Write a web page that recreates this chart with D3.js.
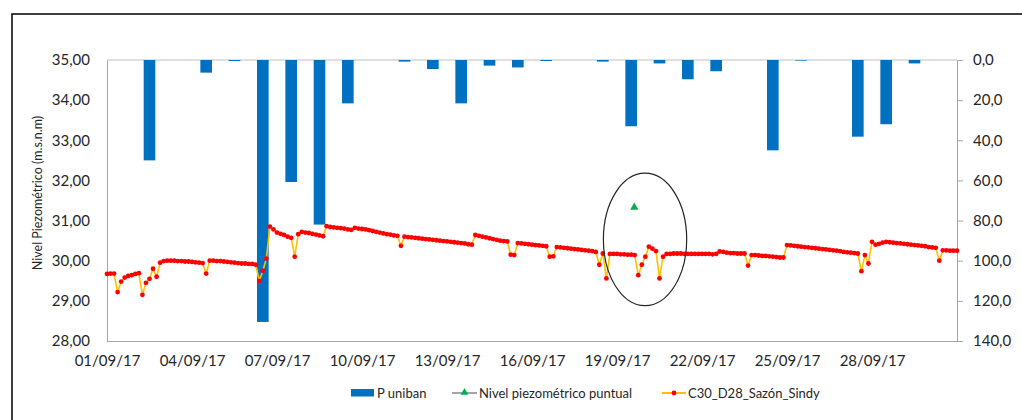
<!DOCTYPE html>
<html lang="es">
<head>
<meta charset="utf-8">
<title>Nivel piezométrico</title>
<style>
  body { margin: 0; background: #fff; font-family: "Lato", "Open Sans", sans-serif; }
  svg { display: block; }
  .axis text { fill: #262626; font-family: "Lato", sans-serif; }
  .axis path, .axis line { stroke: #a6a6a6; }
</style>
<script src="https://cdn.jsdelivr.net/npm/d3@7"></script>
</head>
<body>
<script>
// precipitación diaria (mm), día de septiembre 2017
var lluviaDias = [2, 4, 5, 6, 7, 8, 9, 11, 12, 13, 14, 15, 16, 18, 19, 20, 21, 22, 24, 25, 27, 28, 29];
var lluviaMm   = [50, 6.3, 0.5, 130.5, 60.8, 82, 21.6, 0.8, 4.5, 21.6, 2.8, 3.7, 0.5, 0.8, 33, 1.7, 9.6, 5.6, 45, 0.3, 38.2, 32, 1.7];

// C30_D28_Sazón_Sindy: lectura cada 3 horas desde 01/09/17 00:00
var nivel = [
  29.67, 29.68, 29.68, 29.22, 29.48, 29.58, 29.62, 29.64,
  29.67, 29.69, 29.15, 29.45, 29.55, 29.80, 29.60, 29.95,
  29.99, 30.00, 30.00, 30.00, 29.99, 29.99, 29.98, 29.98,
  29.97, 29.96, 29.95, 29.94, 29.68, 30.00, 30.00, 29.99,
  29.99, 29.98, 29.97, 29.96, 29.95, 29.94, 29.93, 29.93,
  29.92, 29.92, 29.90, 29.50, 29.75, 30.05, 30.85, 30.78,
  30.70, 30.67, 30.64, 30.60, 30.57, 30.10, 30.66, 30.72,
  30.70, 30.69, 30.67, 30.65, 30.63, 30.61, 30.86, 30.84,
  30.83, 30.82, 30.81, 30.80, 30.78, 30.77, 30.82, 30.80,
  30.79, 30.78, 30.76, 30.74, 30.72, 30.70, 30.68, 30.66,
  30.65, 30.63, 30.62, 30.37, 30.60, 30.59, 30.58, 30.57,
  30.56, 30.55, 30.54, 30.53, 30.52, 30.51, 30.50, 30.49,
  30.48, 30.47, 30.46, 30.45, 30.44, 30.43, 30.41, 30.40,
  30.64, 30.62, 30.60, 30.58, 30.56, 30.54, 30.52, 30.50,
  30.49, 30.48, 30.15, 30.14, 30.44, 30.43, 30.42, 30.41,
  30.40, 30.39, 30.38, 30.37, 30.36, 30.10, 30.11, 30.34,
  30.33, 30.32, 30.31, 30.30, 30.29, 30.28, 30.27, 30.26,
  30.25, 30.24, 30.22, 29.90, 30.18, 29.56, 30.17, 30.17,
  30.17, 30.16, 30.16, 30.15, 30.15, 30.14, 29.64, 29.90,
  30.10, 30.35, 30.30, 30.24, 29.56, 30.10, 30.17, 30.17,
  30.18, 30.18, 30.18, 30.17, 30.17, 30.17, 30.17, 30.17,
  30.17, 30.17, 30.17, 30.16, 30.17, 30.23, 30.22, 30.20,
  30.19, 30.19, 30.18, 30.18, 30.18, 29.88, 30.14, 30.14,
  30.13, 30.12, 30.12, 30.11, 30.10, 30.09, 30.08, 30.08,
  30.39, 30.38, 30.37, 30.36, 30.35, 30.34, 30.33, 30.32,
  30.31, 30.30, 30.29, 30.28, 30.27, 30.26, 30.25, 30.24,
  30.22, 30.21, 30.20, 30.19, 30.18, 29.74, 30.14, 29.93,
  30.47, 30.40, 30.42, 30.45, 30.47, 30.46, 30.45, 30.44,
  30.43, 30.42, 30.41, 30.40, 30.39, 30.38, 30.37, 30.36,
  30.34, 30.33, 30.32, 30.00, 30.26, 30.26, 30.25, 30.25,
  30.25
];

// nivel piezométrico puntual
var puntualFecha = [new Date(2017, 8, 19, 14, 40)];
var puntualValor = [31.33];

var ticksIzq = [28, 29, 30, 31, 32, 33, 34, 35];
var ticksDer = [0, 20, 40, 60, 80, 100, 120, 140];
var ticksFecha = [1, 4, 7, 10, 13, 16, 19, 22, 25, 28];

var width = 1022, height = 420;
var L = 107, R = 957, T = 60, B = 341;

var svg = d3.select("body").append("svg")
  .attr("width", width)
  .attr("height", height);

// marco exterior
svg.append("rect")
  .attr("x", 12).attr("y", 14)
  .attr("width", 1030).attr("height", 430)
  .style("fill", "none").style("stroke", "#000").style("stroke-width", 1.5);

var x = d3.scaleTime()
  .domain([new Date(2017, 8, 1), new Date(2017, 9, 1)])
  .range([L, R]);
var yL = d3.scaleLinear().domain([28, 35]).range([B, T]);
var yR = d3.scaleLinear().domain([0, 140]).range([T, B]);

function coma(n, d) { return n.toFixed(d).replace(".", ","); }

// borde superior del área
svg.append("line")
  .attr("x1", L).attr("x2", R).attr("y1", T).attr("y2", T)
  .style("stroke", "#bfbfbf");

// barras de lluvia (cuelgan del eje derecho)
var bw = (x(new Date(2017, 8, 2)) - x(new Date(2017, 8, 1))) * 0.41;
svg.append("g").selectAll("rect")
  .data(lluviaDias)
  .enter().append("rect")
  .attr("x", function(d) { return x(new Date(2017, 8, d, 12)) - bw / 2; })
  .attr("y", yR(0))
  .attr("width", bw)
  .attr("height", function(d, i) { return yR(lluviaMm[i]) - yR(0); })
  .style("fill", "#0070c0");

// ejes
svg.append("g").attr("class", "axis")
  .attr("transform", "translate(" + L + ",0)")
  .call(d3.axisLeft(yL).tickValues(ticksIzq).tickSize(0).tickPadding(17)
    .tickFormat(function(d) { return coma(d, 2); }))
  .selectAll("text").style("font-size", "15px");

svg.append("g").attr("class", "axis")
  .attr("transform", "translate(" + R + ",0)")
  .call(d3.axisRight(yR).tickValues(ticksDer).tickSize(6).tickSizeOuter(0).tickPadding(10)
    .tickFormat(function(d) { return coma(d, 1); }))
  .selectAll("text").style("font-size", "15px");

var ax = svg.append("g").attr("class", "axis")
  .attr("transform", "translate(0," + B + ")")
  .call(d3.axisBottom(x)
    .tickValues(ticksFecha.map(function(d) { return new Date(2017, 8, d); }))
    .tickSize(0).tickPadding(14)
    .tickFormat(d3.timeFormat("%d/%m/%y")));
ax.selectAll("text").style("font-size", "15px");
ax.select(".domain").attr("d", "M" + L + ",0.5H" + (R + 6));

// título eje
svg.append("text")
  .attr("transform", "translate(42,193) rotate(-90)")
  .attr("text-anchor", "middle")
  .style("font-size", "12.5px").style("fill", "#262626")
  .text("Nivel Piezométrico (m.s.n.m)");

// serie de nivel
var t0 = new Date(2017, 8, 1).getTime();
var serie = nivel.map(function(v, i) { return { t: new Date(t0 + i * 3 * 3600 * 1000), v: v }; });

svg.append("path")
  .datum(serie)
  .attr("d", d3.line().x(function(d) { return x(d.t); }).y(function(d) { return yL(d.v); }))
  .style("fill", "none").style("stroke", "#ffc000").style("stroke-width", 1.6);

svg.append("g").selectAll("circle")
  .data(serie)
  .enter().append("circle")
  .attr("cx", function(d) { return x(d.t); })
  .attr("cy", function(d) { return yL(d.v); })
  .attr("r", 2.4)
  .style("fill", "#ff0000");

// puntual
var tri = d3.symbol().type(d3.symbolTriangle).size(30);
svg.append("g").selectAll("path")
  .data(puntualFecha)
  .enter().append("path")
  .attr("d", tri)
  .attr("transform", function(d, i) { return "translate(" + x(d) + "," + yL(puntualValor[i]) + ")"; })
  .style("fill", "#00b050");

// elipse de anotación
var ec = new Date(2017, 8, 19, 23, 45);
svg.append("ellipse")
  .attr("cx", x(ec))
  .attr("cy", yL(30.53))
  .attr("rx", x(new Date(ec.getTime() + 1.47 * 86400000)) - x(ec))
  .attr("ry", yL(30.53) - yL(32.18))
  .style("fill", "none").style("stroke", "#262626").style("stroke-width", 1.2);

// leyenda
var lg = svg.append("g").style("font-size", "13px").style("fill", "#262626");
var ly = 393;
lg.append("rect").attr("x", 351).attr("y", ly - 4).attr("width", 23).attr("height", 7.5).style("fill", "#0070c0");
lg.append("text").attr("x", 377).attr("y", ly + 5).text("P uniban");

lg.append("line").attr("x1", 452).attr("x2", 477).attr("y1", ly).attr("y2", ly)
  .style("stroke", "#a5a5a5").style("stroke-width", 2);
lg.append("path").attr("d", d3.symbol().type(d3.symbolTriangle).size(26))
  .attr("transform", "translate(464.5," + (ly - 0.5) + ")").style("fill", "#00b050");
lg.append("text").attr("x", 479).attr("y", ly + 5).text("Nivel piezométrico puntual");

lg.append("line").attr("x1", 662).attr("x2", 686).attr("y1", ly).attr("y2", ly)
  .style("stroke", "#ffc000").style("stroke-width", 2);
lg.append("circle").attr("cx", 674).attr("cy", ly).attr("r", 2.4).style("fill", "#ff0000");
lg.append("text").attr("x", 688).attr("y", ly + 5).text("C30_D28_Sazón_Sindy");
</script>
</body>
</html>
